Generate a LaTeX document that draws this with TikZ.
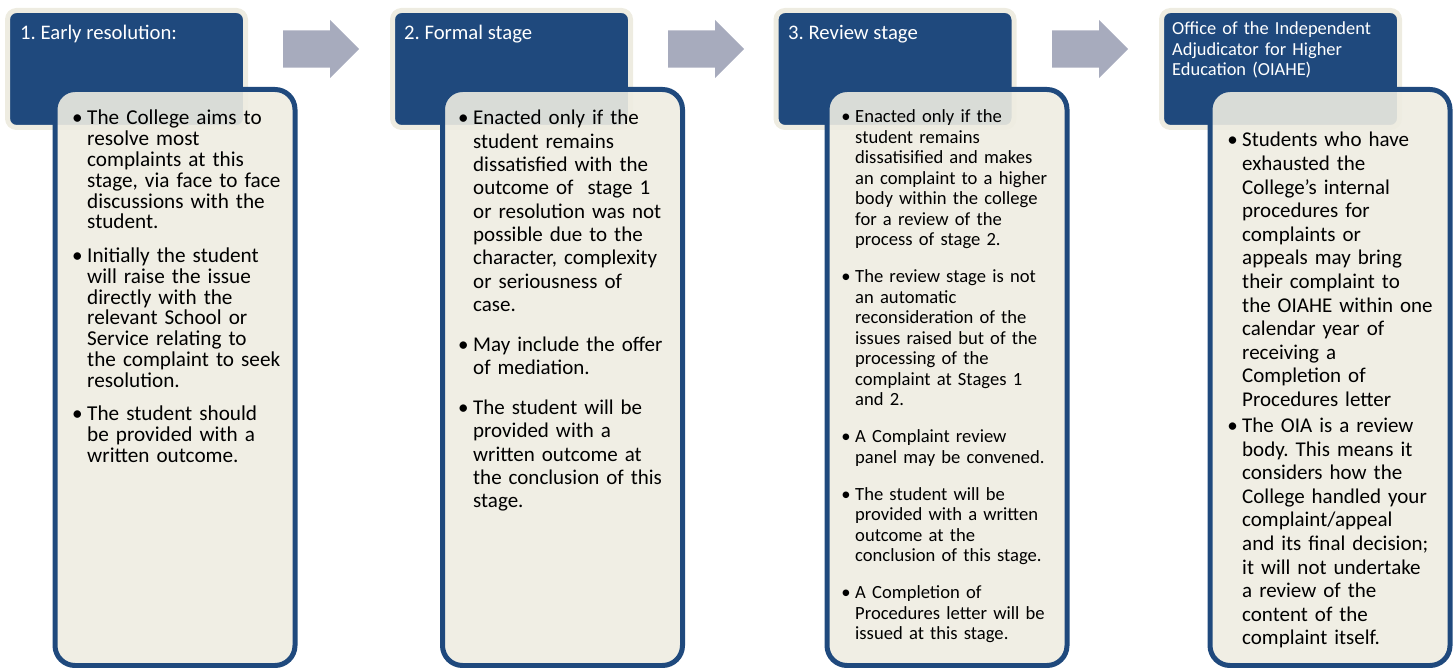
\documentclass[tikz,border=0pt]{standalone}
\usepackage{fontspec}
\setmainfont{Carlito}
\usepackage{tikz}
\usetikzlibrary{shapes,arrows}
\definecolor{hdblue}{RGB}{31,73,125}
\definecolor{cream}{RGB}{238,236,225}
\definecolor{arrgrey}{RGB}{167,171,189}
\frenchspacing
\tikzset{
  hdbox/.style={rectangle, rounded corners=9pt, fill=hdblue, draw=cream, line width=5pt, inner sep=0pt},
  bdbox/.style={rectangle, rounded corners=20pt, fill=cream, fill opacity=0.9, draw=hdblue, line width=5pt, inner sep=0pt},
  nextarr/.style={single arrow, single arrow head extend=10.5pt, single arrow tip angle=90, fill=arrgrey, inner sep=0pt, text height=37pt, text depth=0pt, anchor=tail},
  hdtext/.style={anchor=base west, inner sep=0pt, text=white, font=\fontsize{20.7}{24}\selectfont},
  bdtext/.style={anchor=base west, inner sep=0pt, text width=230pt, align=left}
}

\begin{document}
\begin{tikzpicture}[x=1pt, y=-1pt]
  \newcommand{\hdw}{238pt}
  \newcommand{\hdh}{117pt}
  \newcommand{\bdw}{240pt}
  \newcommand{\bdh}{576pt}
  \newcommand{\bul}{\leavevmode\llap{\textbullet\hspace{4.5pt}}}

  \useasboundingbox (0,0) rectangle (1456,668);

  % stage headers
  \node[hdbox, minimum width=\hdw, minimum height=\hdh] (h1) at (126.5,69) {};
  \node[hdbox, minimum width=\hdw, minimum height=\hdh] (h2) at (511.5,69) {};
  \node[hdbox, minimum width=\hdw, minimum height=\hdh] (h3) at (895,69) {};
  \node[hdbox, minimum width=\hdw, minimum height=\hdh] (h4) at (1280.5,69) {};

  \node[nextarr, minimum height=76pt] (a1) at (283,49) {};
  \node[nextarr, minimum height=76pt] (a2) at (668,49) {};
  \node[nextarr, minimum height=76pt] (a3) at (1052,49) {};

  % stage bodies
  \node[bdbox, minimum width=\bdw, minimum height=\bdh] (b1) at (175,377.5) {};
  \node[bdbox, minimum width=\bdw, minimum height=\bdh] (b2) at (562.5,377.5) {};
  \node[bdbox, minimum width=\bdw, minimum height=\bdh] (b3) at (947,377.5) {};
  \node[bdbox, minimum width=\bdw, minimum height=\bdh] (b4) at (1330,377.5) {};

  \node[hdtext] (ht1) at (20,40) {1. Early resolution:};
  \node[hdtext] (ht2) at (404,40) {2. Formal stage};
  \node[hdtext] (ht3) at (788,39.5) {3. Review stage};
  \node[hdtext, text width=225pt, align=left, %%
    font=\fontsize{18.4}{20.5}\selectfont] (ht4) at (1172,35) %%
  {Office of the Independent\\ Adjudicator for Higher\\ Education (OIAHE)};

  \node[bdtext, font=\fontsize{21.2}{20.8}\selectfont] (t1) at (87,125) {%
    \bul The College aims to\\ resolve most\\ complaints at this\\ %%
    stage, via face to face\\ discussions with the\\ student.\\[12.8pt]
    \bul Initially the student\\ will raise the issue\\ directly with the\\ %%
    relevant School or\\ Service relating to\\ the complaint to seek\\ resolution.\\[12.8pt]
    \bul The student should\\ be provided with a\\ written outcome.};

  \node[bdtext, font=\fontsize{21}{23.3}\selectfont] (t2) at (473,125) {%
    \bul Enacted only if the\\ student remains\\ dissatisfied with the\\ %%
    outcome of~ stage 1\\ or resolution was not\\ possible due to the\\ %%
    character, complexity\\ or seriousness of\\ case.\\[16.7pt]
    \bul May include the offer\\ of mediation.\\[16.7pt]
    \bul The student will be\\ provided with a\\ written outcome at\\ %%
    the conclusion of this\\ stage.};

  \node[bdtext, font=\fontsize{18.6}{20.5}\selectfont] (t3) at (855,123) {%
    \bul Enacted only if the\\ student remains\\ dissatisified and makes\\ %%
    an complaint to a higher\\ body within the college\\ for a review of the\\ %%
    process of stage 2.\\[16.5pt]
    \bul The review stage is not\\ an automatic\\ reconsideration of the\\ %%
    issues raised but of the\\ processing of the\\ complaint at Stages 1\\ and 2.\\[16.5pt]
    \bul A Complaint review\\ panel may be convened.\\[16.5pt]
    \bul The student will be\\ provided with a written\\ outcome at the\\ %%
    conclusion of this stage.\\[16.5pt]
    \bul A Completion of\\ Procedures letter will be\\ issued at this stage.};

  \node[bdtext, font=\fontsize{21}{23.6}\selectfont] (t4) at (1242,147) {%
    \bul Students who have\\ exhausted the\\ College’s internal\\ %%
    procedures for\\ complaints or\\ appeals may bring\\ their complaint to\\ %%
    the OIAHE within one\\ calendar year of\\ receiving a\\ Completion of\\ %%
    Procedures letter\\[2.4pt]
    \bul The OIA is a review\\ body. This means it\\ considers how the\\ %%
    College handled your\\ complaint/appeal\\ and its final decision;\\ %%
    it will not undertake\\ a review of the\\ content of the\\ complaint itself.};
\end{tikzpicture}
\end{document}
